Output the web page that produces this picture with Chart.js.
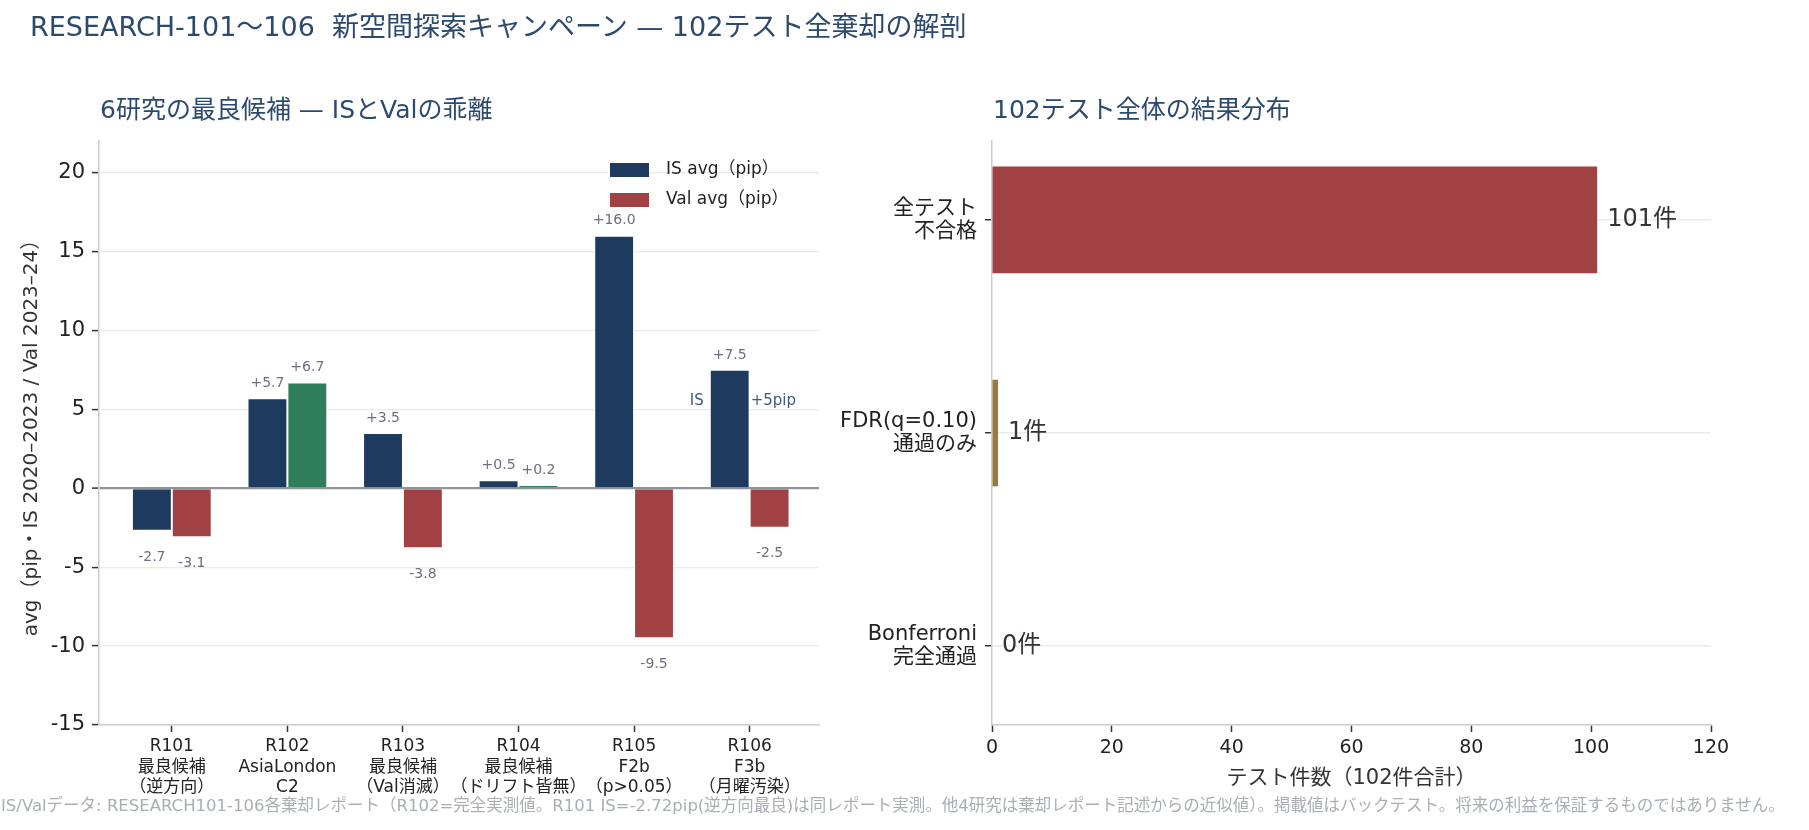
<!DOCTYPE html>
<html lang="ja">
<head>
<meta charset="utf-8">
<title>RESEARCH-101～106</title>
<script src="https://cdn.jsdelivr.net/npm/chart.js@4.4.1/dist/chart.umd.min.js"></script>
<style>
  html, body { margin: 0; padding: 0; background: #fff; }
  #page { position: relative; width: 1809px; height: 830px; overflow: hidden; font-family: 'DejaVu Sans', 'Noto Sans CJK JP', sans-serif; }
  #page canvas { position: absolute; top: 0; }
  .title { position: absolute; left: 30px; top: 5px; font-size: 27px; color: #2c4a6e; white-space: nowrap; }
  .sub { position: absolute; top: 89px; font-size: 25px; color: #2c4a6e; white-space: nowrap; }
  .foot { position: absolute; left: 1px; top: 792px; font-size: 16.5px; color: #a9aeb6; white-space: nowrap; }
</style>
</head>
<body>
<div id="page">
  <canvas id="left" width="840" height="830" style="left:0"></canvas>
  <canvas id="right" width="969" height="830" style="left:840px"></canvas>
  <div class="title">RESEARCH-101～106&nbsp; 新空間探索キャンペーン — 102テスト全棄却の解剖</div>
  <div class="sub" style="left:100px">6研究の最良候補 — ISとValの乖離</div>
  <div class="sub" style="left:993px">102テスト全体の結果分布</div>
  <div class="foot">IS/Valデータ: RESEARCH101-106各棄却レポート（R102=完全実測値。R101 IS=-2.72pip(逆方向最良)は同レポート実測。他4研究は棄却レポート記述からの近似値）。掲載値はバックテスト。将来の利益を保証するものではありません。</div>
</div>
<script>
// 左: 6研究の最良候補
const studies = ['R101', 'R102', 'R103', 'R104', 'R105', 'R106'];
const studyNotes = [
  ['最良候補', '（逆方向）'],
  ['AsiaLondon', 'C2'],
  ['最良候補', '（Val消滅）'],
  ['最良候補', '（ドリフト皆無）'],
  ['F2b', '（p>0.05）'],
  ['F3b', '（月曜汚染）']
];
const isAvg = [-2.7, 5.7, 3.5, 0.5, 16.0, 7.5];
const valAvg = [-3.1, 6.7, -3.8, 0.2, -9.5, -2.5];
const yTicksLeft = [-15, -10, -5, 0, 5, 10, 15, 20];

// 右: 102テストの結果
const outcomeLabels = [['全テスト', '不合格'], ['FDR(q=0.10)', '通過のみ'], ['Bonferroni', '完全通過']];
const outcomeCounts = [101, 1, 0];
const xTicksRight = [0, 20, 40, 60, 80, 100, 120];

const NAVY = '#1f3a5f', RED = '#a04144', GREEN = '#2e7d5b', GOLD = '#9a7a3a';
const GRID = '#ebebe6', SPINE = '#c9cdd3', TICK = '#333';
const FONT = "'DejaVu Sans', 'Noto Sans CJK JP', sans-serif";

Chart.defaults.font.family = FONT;
Chart.defaults.color = '#222';
Chart.defaults.animation = false;

const fmt = v => (v > 0 ? '+' : '') + v.toFixed(1);

// 棒の値ラベル
const barLabels = {
  id: 'barLabels',
  afterDatasetsDraw(chart) {
    const ctx = chart.ctx;
    ctx.save();
    ctx.font = '14px ' + FONT;
    ctx.fillStyle = '#6b7080';
    ctx.textAlign = 'center';
    ctx.textBaseline = 'middle';
    chart.data.datasets.forEach((ds, i) => {
      chart.getDatasetMeta(i).data.forEach((bar, j) => {
        const v = ds.data[j].y;
        ctx.fillText(fmt(v), bar.x, v >= 0 ? bar.y - 15 : bar.y + 26);
      });
    });
    ctx.restore();
  }
};

// IS閾値の注記（R106のIS棒の後ろ）
const isNote = {
  id: 'isNote',
  beforeDatasetsDraw(chart) {
    const ctx = chart.ctx;
    const y = chart.scales.y.getPixelForValue(5) - 8;
    const x = chart.scales.x.getPixelForValue(5);
    ctx.save();
    ctx.font = '15px ' + FONT;
    ctx.fillStyle = '#3d5a80';
    ctx.textBaseline = 'middle';
    ctx.textAlign = 'right';
    ctx.fillText('IS', x - 46, y);
    ctx.textAlign = 'center';
    ctx.fillText('≥', x - 24, y);
    ctx.textAlign = 'left';
    ctx.fillText('+5pip', x + 1, y);
    ctx.restore();
  }
};

// 凡例（プロット内右上）
const boxLegend = {
  id: 'boxLegend',
  afterDraw(chart) {
    const ctx = chart.ctx;
    ctx.save();
    ctx.font = '17px ' + FONT;
    ctx.textBaseline = 'middle';
    const items = [[NAVY, 'IS avg（pip）', 170], [RED, 'Val avg（pip）', 200]];
    items.forEach(([c, t, y]) => {
      ctx.fillStyle = c;
      ctx.fillRect(610, y - 7, 39, 14);
      ctx.fillStyle = '#222';
      ctx.fillText(t, 666, y);
    });
    ctx.restore();
  }
};

new Chart(document.getElementById('left'), {
  type: 'bar',
  data: {
    datasets: [
      {
        label: 'IS avg（pip）',
        data: isAvg.map((v, i) => ({ x: i, y: v })),
        backgroundColor: NAVY,
        borderColor: '#fff',
        borderWidth: 1
      },
      {
        label: 'Val avg（pip）',
        data: valAvg.map((v, i) => ({ x: i, y: v })),
        backgroundColor: valAvg.map(v => v > 0 ? GREEN : RED),
        borderColor: '#fff',
        borderWidth: 1
      }
    ]
  },
  options: {
    responsive: false,
    devicePixelRatio: 1,
    categoryPercentage: 0.69,
    barPercentage: 1,
    layout: { padding: { top: 141, right: 21, left: 0, bottom: 0 } },
    plugins: { legend: { display: false }, tooltip: { enabled: false } },
    scales: {
      x: {
        type: 'linear',
        offset: false,
        min: -0.63,
        max: 5.6,
        afterFit: s => { s.height = 105; },
        afterBuildTicks: s => { s.ticks = studies.map((_, i) => ({ value: i })); },
        ticks: {
          autoSkip: false,
          maxRotation: 0,
          padding: 5,
          font: { size: 17, lineHeight: 1.18 },
          color: '#222',
          callback: v => [studies[v]].concat(studyNotes[v])
        },
        grid: { offset: false, drawOnChartArea: false, drawTicks: true, tickLength: 7, tickColor: TICK, tickWidth: 1.5 },
        border: { color: SPINE, width: 1.5 }
      },
      y: {
        min: -15,
        max: 22,
        afterFit: s => { s.width = 99; },
        afterBuildTicks: s => { s.ticks = yTicksLeft.map(v => ({ value: v })); },
        ticks: { font: { size: 21 }, color: '#222', padding: 7 },
        grid: {
          color: c => c.tick && c.tick.value === 0 ? '#8e939c' : GRID,
          lineWidth: c => c.tick && c.tick.value === 0 ? 2.2 : 1.2,
          tickColor: TICK,
          tickLength: 7,
          tickWidth: 1.5
        },
        border: { color: SPINE, width: 1.5 },
        title: {
          display: true,
          text: 'avg（pip・IS 2020–2023 / Val 2023–24）',
          font: { size: 20 },
          color: '#333',
          padding: { top: 20, bottom: 0 }
        }
      }
    }
  },
  plugins: [isNote, barLabels, boxLegend]
});

// 右側の件数ラベル
const countLabels = {
  id: 'countLabels',
  afterDatasetsDraw(chart) {
    const ctx = chart.ctx;
    ctx.save();
    ctx.font = '24px ' + FONT;
    ctx.fillStyle = '#333';
    ctx.textBaseline = 'middle';
    chart.getDatasetMeta(0).data.forEach((bar, i) => {
      ctx.fillText(outcomeCounts[i] + '件', bar.x + 10, bar.y);
    });
    ctx.restore();
  }
};

new Chart(document.getElementById('right'), {
  type: 'bar',
  data: {
    datasets: [{
      data: outcomeCounts.map((v, i) => ({ x: v, y: i })),
      backgroundColor: [RED, GOLD, '#8e939c'],
      borderWidth: 0,
      barPercentage: 0.5,
      categoryPercentage: 1
    }]
  },
  options: {
    indexAxis: 'y',
    responsive: false,
    devicePixelRatio: 1,
    layout: { padding: { top: 141, right: 98, left: 0, bottom: 0 } },
    plugins: { legend: { display: false }, tooltip: { enabled: false } },
    scales: {
      x: {
        type: 'linear',
        min: 0,
        max: 120,
        afterFit: s => { s.height = 105; },
        afterBuildTicks: s => { s.ticks = xTicksRight.map(v => ({ value: v })); },
        ticks: { font: { size: 19 }, color: '#222', padding: 5 },
        grid: { drawOnChartArea: false, tickColor: TICK, tickLength: 7, tickWidth: 1.5 },
        border: { color: SPINE, width: 1.5 },
        title: {
          display: true,
          text: 'テスト件数（102件合計）',
          font: { size: 21 },
          color: '#333',
          padding: { top: 4, bottom: 39 }
        }
      },
      y: {
        type: 'linear',
        offset: false,
        reverse: true,
        min: -0.37,
        max: 2.37,
        afterFit: s => { s.width = 152; },
        afterBuildTicks: s => { s.ticks = outcomeLabels.map((_, i) => ({ value: i })); },
        ticks: {
          font: { size: 21, lineHeight: 1.1 },
          color: '#222',
          padding: 8,
          callback: v => outcomeLabels[v]
        },
        grid: { offset: false, color: GRID, lineWidth: 1.5, tickColor: TICK, tickLength: 7, tickWidth: 1.5 },
        border: { color: SPINE, width: 1.5 }
      }
    }
  },
  plugins: [countLabels]
});
</script>
</body>
</html>
